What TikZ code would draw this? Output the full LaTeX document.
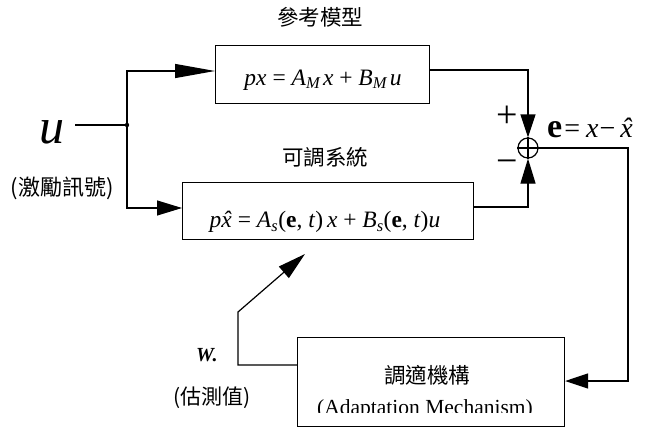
\documentclass[tikz,border=0pt]{standalone}
\usepackage{fontspec}
\setmainfont{Liberation Serif}
\newfontfamily\cjk{Noto Sans CJK TC}
\usetikzlibrary{arrows.meta}
\newcommand{\xhat}{\textit{\accent"02C6 x}}
\begin{document}
\begin{tikzpicture}[x=1pt,y=-1pt,
  ln/.style={line width=1.2pt},
  blk/.style={draw,line width=1.2pt,inner sep=0pt,anchor=north west},
  lbl/.style={inner sep=0pt,font=\cjk\fontsize{21.5}{23}\selectfont},
  eq/.style={inner sep=0pt,font=\fontsize{23.5}{25}\selectfont},
  sgn/.style={inner sep=0pt,font=\fontsize{38}{40}\selectfont},
  tipL/.style={-{Triangle[length=40pt,width=14pt]}},
  tipM/.style={-{Triangle[length=25pt,width=15pt]}},
  tipS/.style={-{Triangle[length=23pt,width=15pt]}},
]
\useasboundingbox (0,0) rectangle (648,428);

% blocks
\node[blk,minimum width=214pt,minimum height=58pt] (ref) at (215,45) {};
\node[blk,minimum width=291pt,minimum height=57pt] (adj) at (182,182) {};
\node[blk,minimum width=267pt,minimum height=89pt] (mech) at (297,337) {};
\node[draw,circle,line width=1.2pt,minimum size=20pt,inner sep=0pt] (sum) at (528,148) {};
\draw[ln] (sum.north) -- (sum.south) (sum.west) -- (sum.east);

% texts
\node[lbl] (reft) at (320,17) {參考模型};
\node[lbl] (adjt) at (325,157) {可調系統};
\node[lbl] (mecht) at (427,375) {調適機構};
\begin{scope}
\clip (297,330) rectangle (564,412);
\node[inner sep=0pt,anchor=base,font=\fontsize{21.5}{23}\selectfont] (mechs) at (425,414) {(Adaptation Mechanism)};
\end{scope}
\node[lbl,font=\cjk\fontsize{22}{24}\selectfont] (exc) at (62,188) {(激勵訊號)};
\node[lbl,font=\cjk\fontsize{21}{23}\selectfont] (est) at (212,398) {(估測值)};
\node[eq] (refeq) at (323,80) {\textit{px} = \textit{A}\textsubscript{\textit{M}}\kern2pt\textit{x} + \textit{B}\textsubscript{\textit{M}}\kern2pt\textit{u}};
\node[eq] (adjeq) at (325,222) {\textit{p}\xhat{} = \textit{A}\textsubscript{\textit{s}}(\textbf{e}, \textit{t})\,\textit{x} + \textit{B}\textsubscript{\textit{s}}(\textbf{e}, \textit{t})\textit{u}};
\node[inner sep=0pt,anchor=base,font=\fontsize{50}{52}\selectfont\itshape] (u) at (52,143) {u};
\node[inner sep=0pt,anchor=base west,font=\fontsize{20}{22}\selectfont\bfseries\itshape] (w) at (196,361) {W.};
\node[inner sep=0pt,anchor=base west] (err) at (547,137) {{\fontsize{34}{36}\selectfont\bfseries e}{\fontsize{28}{30}\selectfont\kern2pt=\kern6pt\textit{x}\kern1pt−\kern5pt\xhat}};
\node[sgn] (plus) at (507,117) {+};
\node[sgn] (minus) at (507,167) {−};

% coordinates
\coordinate (ul) at (75,125);
\coordinate (j) at (127,125);
\coordinate (topin) at (215,71);
\coordinate (botin) at (182,208);
\coordinate (refout) at (429,70);
\coordinate (adjout) at (473,207);
\coordinate (rc) at (628,381);
\coordinate (mechout) at (297,365);
\coordinate (wc1) at (238,365);
\coordinate (wc2) at (238,312);
\coordinate (wtip) at (305,254);

% connectors
\draw[ln] (ul) -- (j);
\fill (j) circle (2.2pt);
\draw[ln,tipL] (j) |- (topin);
\draw[ln,tipM] (j) |- (botin);
\draw[ln,tipS] (refout) -| (sum.north);
\draw[ln,tipM] (adjout) -| (sum.south);
\draw[ln,tipS] (sum.east) -| (rc) -- (mech.east |- rc);
\draw[ln,-{Triangle[length=28pt,width=15pt]}] (mechout) -- (wc1) -- (wc2) -- (wtip);
\end{tikzpicture}
\end{document}
